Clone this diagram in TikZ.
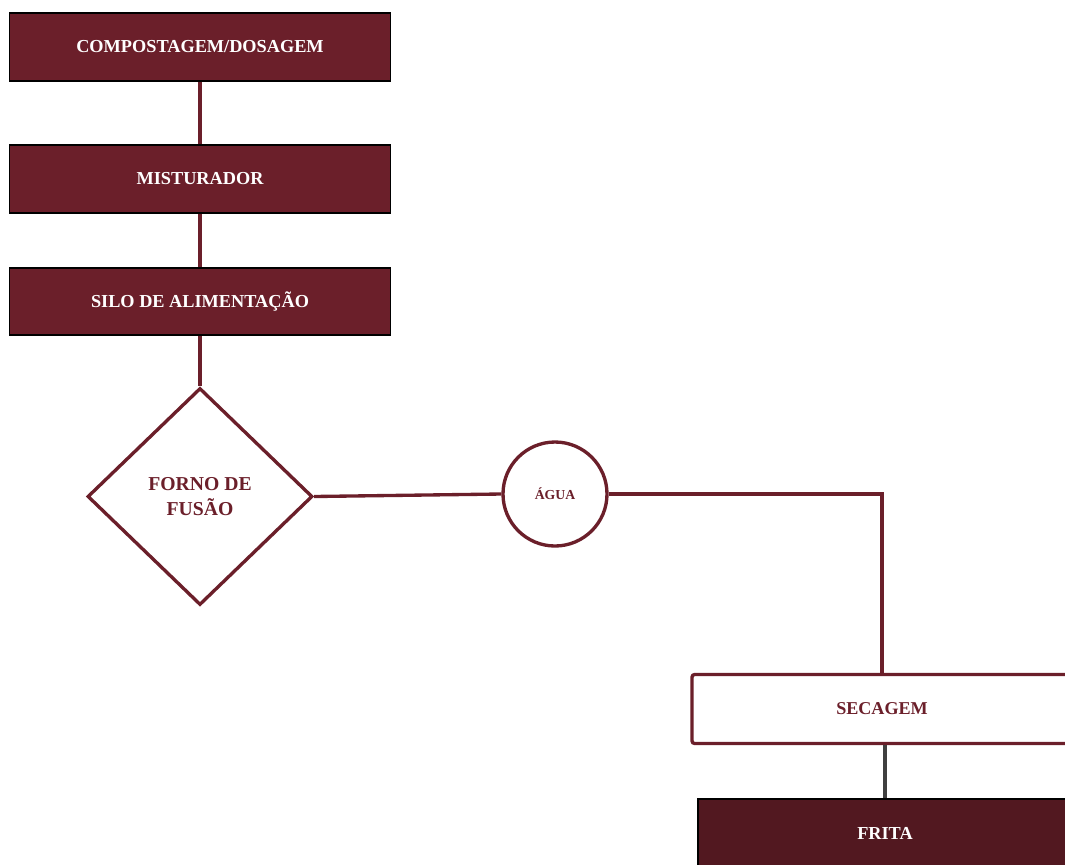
\documentclass[tikz,border=0pt]{standalone}
\usepackage{fontspec}
\setmainfont{Liberation Serif}
\usetikzlibrary{shapes.geometric}

\definecolor{vinho}{RGB}{107,31,42}
\definecolor{vinhoescuro}{RGB}{82,24,32}
\definecolor{cinza}{RGB}{64,64,64}

\tikzset{
	etapa/.style={rectangle,draw=black,line width=0.85pt,fill=vinho,text=white,
		font=\fontsize{10.4}{12}\selectfont\bfseries,minimum width=7.62cm,minimum height=1.36cm},
	etapaclara/.style={rectangle,draw=vinho,line width=1.9pt,fill=white,text=vinho,rounded corners=1.5pt,
		font=\fontsize{10.3}{12}\selectfont\bfseries,minimum width=7.6cm,minimum height=1.38cm},
	forno/.style={diamond,draw=vinho,line width=1.9pt,fill=white,text=vinho,align=center,inner sep=0pt,
		font=\fontsize{11.2}{14}\selectfont\bfseries,minimum width=4.5cm,minimum height=4.34cm},
	agua/.style={circle,draw=vinho,line width=1.9pt,fill=white,text=vinho,
		font=\fontsize{7.8}{9}\selectfont\bfseries,minimum size=2.08cm},
	liga/.style={draw=vinho,line width=1.9pt}
}

\begin{document}
\begin{tikzpicture}
	\clip (0,0) rectangle (21.3,-17.28);
	\node[etapa] (comp) at (4.0,-0.94) {COMPOSTAGEM/DOSAGEM};
	\node[etapa] (mist) at (4.0,-3.58) {MISTURADOR};
	\node[etapa,minimum height=1.34cm] (silo) at (4.0,-6.03) {SILO DE ALIMENTAÇÃO};
	\node[forno] (fusao) at (4.0,-9.93) {FORNO DE\\FUSÃO};
	\node[agua] (agua) at (11.1,-9.88) {ÁGUA};
	\node[etapaclara] (sec) at (17.64,-14.18) {SECAGEM};
	\node[etapa,fill=vinhoescuro,minimum width=7.48cm] (frita) at (17.7,-16.66) {FRITA};

	\draw[liga] (comp.south) -- (mist.north);
	\draw[liga] (mist.south) -- (silo.north);
	\draw[liga] (silo.south) -- (fusao.north);
	\draw[liga] (fusao.east) -- (agua.west);
	\draw[liga] (agua.east) -| (sec.north);
	\draw[cinza,line width=2.2pt] (frita.north |- sec.south) -- (frita.north);
\end{tikzpicture}
\end{document}
